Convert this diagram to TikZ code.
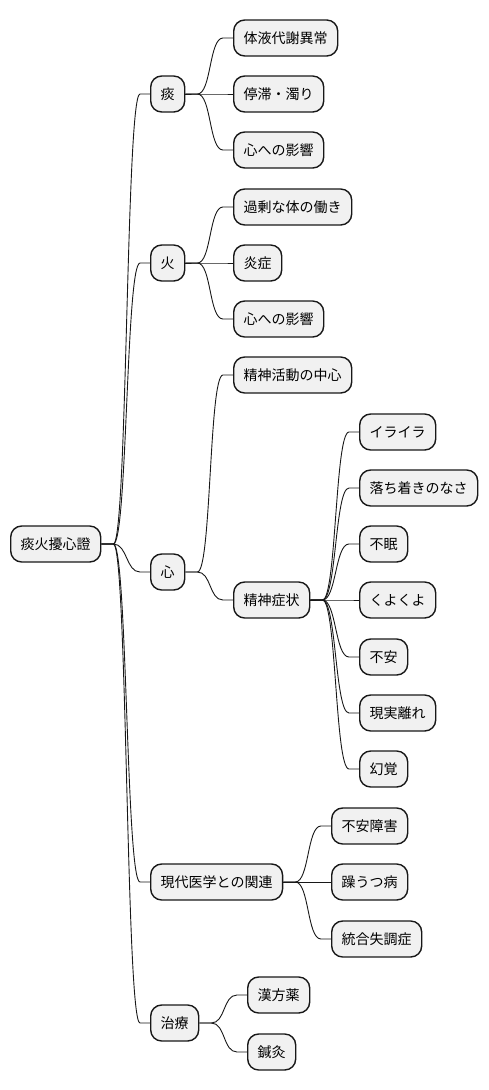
\documentclass[tikz,border=0pt]{standalone}
\usepackage{fontspec}
\setmainfont{Noto Sans CJK JP}
\definecolor{boxfill}{HTML}{F1F1F1}
\definecolor{boxline}{HTML}{181818}
\tikzset{
  mmbox/.style={draw=boxline, fill=boxfill, line width=1.4pt, rounded corners=11pt,
    inner xsep=10pt, inner ysep=0pt, minimum height=36pt, anchor=west,
    font=\fontsize{14pt}{16pt}\selectfont, text height=12.3pt, text depth=1.7pt},
  mmlink/.style={draw=boxline, line width=0.9pt}
}
\newcommand\mmedge[2]{\draw[mmlink] (#1.east) -- ++(12pt,0) .. controls +(14pt,0) and +(-14pt,0) .. ([xshift=-10pt]#2.west) -- (#2.west);}
\begin{document}
\begin{tikzpicture}
\useasboundingbox (0,0) rectangle (488pt,-1090pt);
\node[mmbox] (root) at (10pt,-544pt) {痰火擾心證};
% level 1
\node[mmbox] (tan) at (150pt,-94pt) {痰};
\node[mmbox] (hi) at (150pt,-263pt) {火};
\node[mmbox] (shin) at (150pt,-572pt) {心};
\node[mmbox] (gendai) at (150pt,-882pt) {現代医学との関連};
\node[mmbox] (chiryo) at (150pt,-1023pt) {治療};
% level 2
\node[mmbox] (a1) at (233pt,-38pt) {体液代謝異常};
\node[mmbox] (a2) at (233pt,-94pt) {停滞・濁り};
\node[mmbox] (a3) at (233pt,-150pt) {心への影響};
\node[mmbox] (b1) at (233pt,-207pt) {過剰な体の働き};
\node[mmbox] (b2) at (233pt,-263pt) {炎症};
\node[mmbox] (b3) at (233pt,-319pt) {心への影響};
\node[mmbox] (c1) at (233pt,-375pt) {精神活動の中心};
\node[mmbox] (c2) at (233pt,-600pt) {精神症状};
\node[mmbox] (d1) at (331pt,-826pt) {不安障害};
\node[mmbox] (d2) at (331pt,-882pt) {躁うつ病};
\node[mmbox] (d3) at (331pt,-939pt) {統合失調症};
\node[mmbox] (e1) at (247pt,-995pt) {漢方薬};
\node[mmbox] (e2) at (247pt,-1052pt) {鍼灸};
% level 3
\node[mmbox] (s1) at (359pt,-432pt) {イライラ};
\node[mmbox] (s2) at (359pt,-488pt) {落ち着きのなさ};
\node[mmbox] (s3) at (359pt,-544pt) {不眠};
\node[mmbox] (s4) at (359pt,-600pt) {くよくよ};
\node[mmbox] (s5) at (359pt,-657pt) {不安};
\node[mmbox] (s6) at (359pt,-713pt) {現実離れ};
\node[mmbox] (s7) at (359pt,-769pt) {幻覚};
% edges
\mmedge{root}{tan}
\mmedge{root}{hi}
\mmedge{root}{shin}
\mmedge{root}{gendai}
\mmedge{root}{chiryo}
\mmedge{tan}{a1}
\mmedge{tan}{a2}
\mmedge{tan}{a3}
\mmedge{hi}{b1}
\mmedge{hi}{b2}
\mmedge{hi}{b3}
\mmedge{shin}{c1}
\mmedge{shin}{c2}
\mmedge{gendai}{d1}
\mmedge{gendai}{d2}
\mmedge{gendai}{d3}
\mmedge{chiryo}{e1}
\mmedge{chiryo}{e2}
\mmedge{c2}{s1}
\mmedge{c2}{s2}
\mmedge{c2}{s3}
\mmedge{c2}{s4}
\mmedge{c2}{s5}
\mmedge{c2}{s6}
\mmedge{c2}{s7}
\end{tikzpicture}
\end{document}
